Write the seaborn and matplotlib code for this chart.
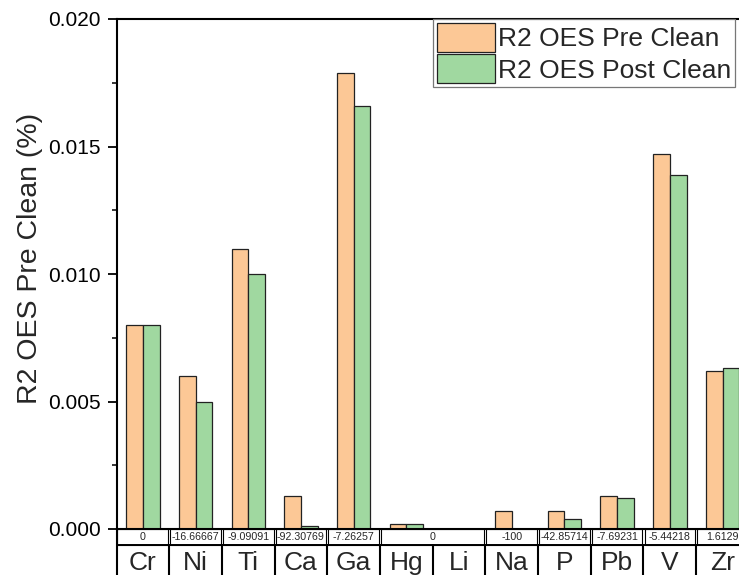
import matplotlib
matplotlib.use("Agg")
import matplotlib.pyplot as plt
import matplotlib.transforms as mtransforms
from matplotlib.patches import Patch, Rectangle
from matplotlib.lines import Line2D
from matplotlib.ticker import MultipleLocator, FormatStrFormatter
import pandas as pd
import seaborn as sns

# Element concentrations (%) before and after cleaning
elements = ["Cr", "Ni", "Ti", "Ca", "Ga", "Hg", "Li", "Na", "P", "Pb", "V", "Zr"]
pre_clean = [0.0080, 0.0060, 0.0110, 0.0013, 0.0179, 0.0002, 0.0, 0.0007, 0.0007, 0.0013, 0.0147, 0.0062]
post_clean = [0.0080, 0.0050, 0.0100, 0.0001, 0.0166, 0.0002, 0.0, 0.0, 0.0004, 0.0012, 0.0139, 0.0063]

# Percent-change row under the axis: (text, number of element columns spanned)
change_cells = [("0", 1), ("-16.66667", 1), ("-9.09091", 1), ("-92.30769", 1), ("-7.26257", 1),
                ("0", 2), ("-100", 1), ("-42.85714", 1), ("-7.69231", 1), ("-5.44218", 1), ("1.6129", 1)]

series_names = ["R2 OES Pre Clean", "R2 OES Post Clean"]
colors = ["#FCC896", "#A0D8A0"]
y_label = "R2 OES Pre Clean (%)"

df = pd.DataFrame({
    "element": elements * 2,
    "series": [series_names[0]] * len(elements) + [series_names[1]] * len(elements),
    "value": pre_clean + post_clean,
})

sns.set_style("ticks")
plt.rcParams["font.family"] = ["Liberation Sans", "DejaVu Sans"]

W, H = 739, 575
fig = plt.figure(figsize=(W / 100, H / 100), dpi=100)
ax_left, ax_bottom, ax_w, ax_h = 116.5, 46, 632.4, 510
ax = fig.add_axes([ax_left / W, ax_bottom / H, ax_w / W, ax_h / H])

sns.barplot(data=df, x="element", y="value", hue="series", order=elements,
            hue_order=series_names, palette=colors, saturation=1, width=0.634,
            edgecolor="#222222", linewidth=0.9, legend=False, ax=ax)

ax.set_xlim(-0.5, len(elements) - 0.5)
ax.set_ylim(0, 0.020)
ax.yaxis.set_major_locator(MultipleLocator(0.005))
ax.yaxis.set_minor_locator(MultipleLocator(0.0025))
ax.yaxis.set_major_formatter(FormatStrFormatter("%.3f"))
ax.tick_params(axis="y", which="major", direction="out", length=6.5, width=1.3,
               labelsize=15, pad=5, colors="black")
ax.tick_params(axis="y", which="minor", direction="out", length=3.8, width=1.3)
ax.tick_params(axis="x", bottom=False, labelbottom=False)
ax.set_xlabel("")
ax.set_ylabel(y_label, fontsize=20.5)
ax.yaxis.set_label_coords(-0.116, 0.53)

for side in ["left", "right", "top", "bottom"]:
    ax.spines[side].set_visible(True)
    ax.spines[side].set_linewidth(1.5)
    ax.spines[side].set_color("black")

# Table of percent change and element names below the axis
trans = mtransforms.blended_transform_factory(ax.transData, ax.transAxes)
row1 = 16 / ax_h
row_bottom = -(H - ax_bottom + 20) / ax_h
inset = 1.1 / (ax_w / len(elements))

start = 0
for text, span in change_cells:
    x0 = start - 0.5 + (inset if start > 0 else 0)
    x1 = start + span - 0.5 - inset
    ax.add_patch(Rectangle((x0, -row1), x1 - x0, row1, transform=trans, fill=False,
                           edgecolor="black", linewidth=0.8, clip_on=False))
    ax.text((x0 + x1) / 2, -row1 / 2, text, transform=trans, ha="center", va="center",
            fontsize=7.7, clip_on=False)
    start += span

ax.add_line(Line2D([-0.5, len(elements) - 0.5], [-row1, -row1], transform=trans,
                   color="black", linewidth=1.4, clip_on=False))
ax.add_line(Line2D([-0.5, -0.5], [0, row_bottom], transform=trans,
                   color="black", linewidth=1.5, clip_on=False))
for i in range(len(elements) - 1):
    ax.add_line(Line2D([i + 0.5, i + 0.5], [-row1, row_bottom], transform=trans,
                       color="black", linewidth=1.5, clip_on=False))
for i, name in enumerate(elements):
    ax.text(i, -34 / ax_h, name, transform=trans, ha="center", va="center",
            fontsize=19, clip_on=False)

handles = [Patch(facecolor=c, edgecolor="#222222", linewidth=0.9) for c in colors]
leg = ax.legend(handles, series_names, loc="upper left",
                bbox_to_anchor=(433 / W, 1 - 19 / H), bbox_transform=fig.transFigure,
                fontsize=19, frameon=True, fancybox=False, framealpha=1,
                borderaxespad=0, borderpad=0.15, handlelength=2.2, handleheight=1.3,
                handletextpad=0.1, labelspacing=0.1)
leg.get_frame().set_edgecolor("#777777")
leg.get_frame().set_linewidth(0.9)

fig.savefig("out.png", dpi=100)
